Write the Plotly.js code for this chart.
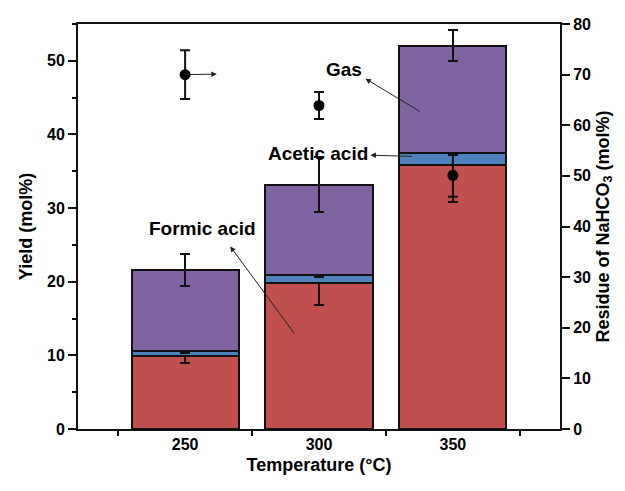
<!DOCTYPE html>
<html>
<head>
<meta charset="utf-8">
<script src="https://cdn.plot.ly/plotly-3.0.1.min.js"></script>
<style>html,body{margin:0;padding:0;background:#fff;}#chart{width:625px;height:491px;}</style>
</head>
<body>
<div id="chart"></div>
<script>
// Categories
const temperatures = ['250', '300', '350'];
const catPos = [0, 1, 2];
// Yields (mol%), left axis
const formicAcid = [9.95, 19.85, 35.9];
const formicErr = [0.97, 3.06, 5.02];
const aceticAcid = [0.7, 1.05, 1.6];
const aceticErr = [0.25, 0.25, 0.25];
const gas = [10.9, 12.3, 14.55];
const gasErr = [2.17, 3.7, 2.08];
// Residue of NaHCO3 (mol%), right axis
const residue = [70.0, 63.9, 50.1];
const residueErr = [4.8, 2.65, 4.2];

const colors = {formic: '#C0504D', acetic: '#4F81BD', gas: '#8064A2'};
const fontFam = 'Arial, "Liberation Sans", sans-serif';

function barTrace(name, vals, errs, color, thick) {
  return {
    type: 'bar', name: name, x: catPos, y: vals, width: 0.8,
    marker: {color: color, line: {color: '#111', width: 2}},
    error_y: {type: 'data', array: errs, visible: true, color: '#111', thickness: thick, width: 5},
    hoverinfo: 'skip'
  };
}

const data = [
  barTrace('Formic acid', formicAcid, formicErr, colors.formic, 2),
  barTrace('Acetic acid', aceticAcid, aceticErr, colors.acetic, 3),
  barTrace('Gas', gas, gasErr, colors.gas, 2),
  {
    type: 'scatter', mode: 'markers', x: catPos, y: residue, yaxis: 'y2',
    marker: {color: '#000', size: 11},
    error_y: {type: 'data', array: residueErr, visible: true, color: '#111', thickness: 2, width: 5},
    hoverinfo: 'skip'
  }
];

const arrowStyle = {showarrow: true, arrowhead: 2, arrowsize: 1.1, arrowwidth: 1, arrowcolor: '#222', text: '', axref: 'x'};
const labelFont = {family: fontFam, size: 19, color: '#000', weight: 'bold'};

const layout = {
  width: 625, height: 491,
  margin: {l: 78, r: 65, t: 24, b: 62},
  paper_bgcolor: '#fff', plot_bgcolor: '#fff',
  barmode: 'stack',
  showlegend: false,
  font: {family: fontFam, color: '#000'},
  xaxis: {
    range: [-0.8, 2.8],
    tickvals: catPos, ticktext: temperatures,
    ticks: '', showgrid: false, zeroline: false,
    showline: true, linecolor: '#111', linewidth: 2, mirror: true,
    tickfont: {family: fontFam, size: 16, weight: 'bold', color: '#000'},
    minor: {tickmode: 'array', tickvals: [-0.5, 0.5, 1.5, 2.5], ticks: 'outside', ticklen: 5, tickwidth: 2, tickcolor: '#111', showgrid: false},
    title: {text: 'Temperature (°C)', font: {family: fontFam, size: 18, weight: 'bold', color: '#000'}, standoff: 6}
  },
  yaxis: {
    range: [0, 55], dtick: 10, tick0: 0,
    ticks: 'outside', ticklen: 8, tickwidth: 2, tickcolor: '#111',
    minor: {dtick: 5, ticks: 'outside', ticklen: 4, tickwidth: 2, tickcolor: '#111', showgrid: false},
    showgrid: false, zeroline: false,
    showline: true, linecolor: '#111', linewidth: 2,
    tickfont: {family: fontFam, size: 16, weight: 'bold', color: '#000'},
    title: {text: 'Yield (mol%)', font: {family: fontFam, size: 18, weight: 'bold', color: '#000'}, standoff: 10}
  },
  yaxis2: {
    overlaying: 'y', side: 'right',
    range: [0, 80], dtick: 10, tick0: 0,
    ticks: 'outside', ticklen: 8, tickwidth: 2, tickcolor: '#111',
    showgrid: false, zeroline: false,
    showline: true, linecolor: '#111', linewidth: 2,
    tickfont: {family: fontFam, size: 16, weight: 'bold', color: '#000'},
    title: {text: 'Residue of NaHCO<sub>3</sub> (mol%)', font: {family: fontFam, size: 18, weight: 'bold', color: '#000'}, standoff: 6}
  },
  annotations: [
    // Gas label + arrow
    {x: 1.185, y: 48.8, xref: 'x', yref: 'y', text: 'Gas', showarrow: false, font: labelFont},
    Object.assign({}, arrowStyle, {x: 1.347, y: 47.57, ax: 1.764, ay: 43.0, xref: 'x', yref: 'y', ayref: 'y'}),
    // Acetic acid label + arrow
    {x: 0.99, y: 37.4, xref: 'x', yref: 'y', text: 'Acetic acid', showarrow: false, font: labelFont},
    Object.assign({}, arrowStyle, {x: 1.384, y: 37.18, ax: 1.708, ay: 37.02, xref: 'x', yref: 'y', ayref: 'y'}),
    // Formic acid label + arrow
    {x: 0.13, y: 27.2, xref: 'x', yref: 'y', text: 'Formic acid', showarrow: false, font: labelFont},
    Object.assign({}, arrowStyle, {x: 0.337, y: 24.8, ax: 0.823, ay: 12.8, xref: 'x', yref: 'y', ayref: 'y'}),
    // Residue -> right axis arrow
    Object.assign({}, arrowStyle, {x: 0.237, y: 70.1, ax: 0.0, ay: 70.0, xref: 'x', yref: 'y2', ayref: 'y2'})
  ]
};

Plotly.newPlot('chart', data, layout, {displayModeBar: false, staticPlot: true});
</script>
</body>
</html>
